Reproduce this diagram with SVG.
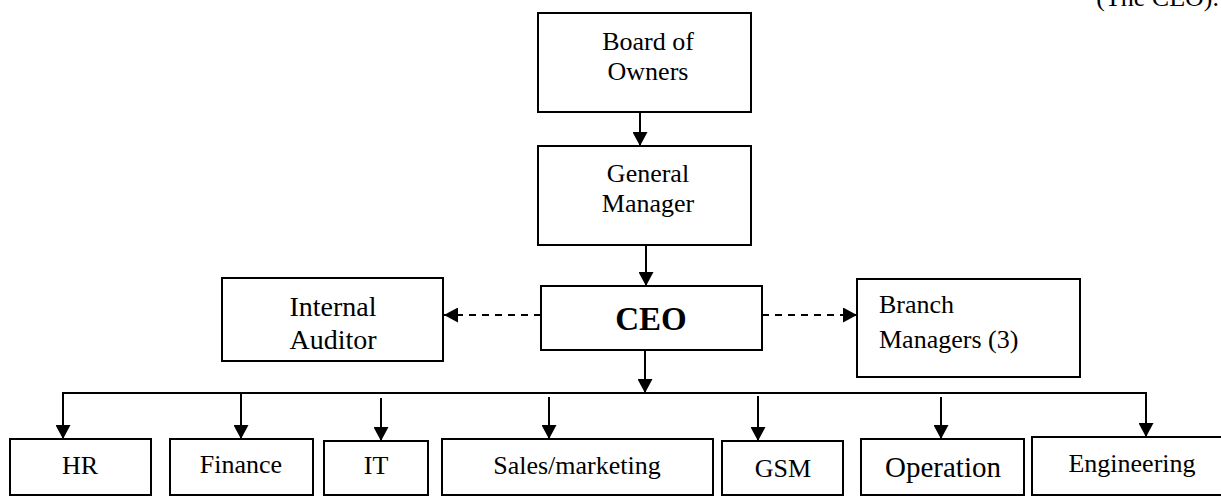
<svg xmlns="http://www.w3.org/2000/svg" width="1221" height="496" viewBox="0 0 1221 496" font-family="'Liberation Serif', Tinos, 'Times New Roman', 'DejaVu Serif', serif">
<style>
.box{fill:#fff;stroke:#000;stroke-width:2}
.t{font-size:26px;fill:#000;text-anchor:middle}
.c{stroke:#000;stroke-width:2;fill:none}
.d{stroke:#000;stroke-width:2;fill:none;stroke-dasharray:7 6}
</style>
<defs>
<marker id="ah" viewBox="0 0 14 15" refX="14" refY="7.5" markerWidth="14" markerHeight="15" markerUnits="userSpaceOnUse" orient="auto">
<path d="M0,0 L14,7.5 L0,15 Z" fill="#000"/>
</marker>
</defs>
<rect width="1221" height="496" fill="#fff"/>
<text class="t" x="1219" y="6" text-anchor="end" style="text-anchor:end">(The CEO).</text>
<g id="connectors">
<line class="c" x1="640" y1="112" x2="640" y2="146" marker-end="url(#ah)"/>
<line class="c" x1="646" y1="245" x2="646" y2="286" marker-end="url(#ah)"/>
<line class="c" x1="645" y1="350" x2="645" y2="393" marker-end="url(#ah)"/>
<line class="d" x1="541" y1="315" x2="444" y2="315" marker-end="url(#ah)"/>
<line class="d" x1="762" y1="315" x2="857" y2="315" marker-end="url(#ah)"/>
<polyline class="c" points="63,439 63,393 1146,393 1146,437"/>
<line class="c" x1="63" y1="420" x2="63" y2="439" marker-end="url(#ah)"/>
<line class="c" x1="1146" y1="420" x2="1146" y2="437" marker-end="url(#ah)"/>
<line class="c" x1="241" y1="393" x2="241" y2="439" marker-end="url(#ah)"/>
<line class="c" x1="381" y1="398" x2="381" y2="441" marker-end="url(#ah)"/>
<line class="c" x1="549" y1="397" x2="549" y2="439" marker-end="url(#ah)"/>
<line class="c" x1="758" y1="396" x2="758" y2="441" marker-end="url(#ah)"/>
<line class="c" x1="941" y1="397" x2="941" y2="439" marker-end="url(#ah)"/>
</g>
<g id="board"><rect class="box" x="538" y="13" width="213" height="99"/><text class="t" x="648" y="50">Board of</text><text class="t" x="648" y="80">Owners</text></g>
<g id="gm"><rect class="box" x="538" y="146" width="213" height="99"/><text class="t" x="648" y="182">General</text><text class="t" x="648" y="212">Manager</text></g>
<g id="ceo"><rect class="box" x="541" y="286" width="221" height="64"/><text class="t" x="651" y="330" style="font-size:33px;font-weight:bold">CEO</text></g>
<g id="auditor"><rect class="box" x="222" y="278" width="221" height="83"/><text class="t" x="333" y="316" style="font-size:28px">Internal</text><text class="t" x="333" y="349" style="font-size:28px">Auditor</text></g>
<g id="branch"><rect class="box" x="857" y="279" width="223" height="98"/><text class="t" x="879" y="313" text-anchor="start" style="text-anchor:start">Branch</text><text class="t" x="879" y="348" text-anchor="start" style="text-anchor:start">Managers (3)</text></g>
<g id="hr"><rect class="box" x="10" y="439" width="141" height="56"/><text class="t" x="80" y="474">HR</text></g>
<g id="finance"><rect class="box" x="170" y="439" width="143" height="56"/><text class="t" x="241" y="473">Finance</text></g>
<g id="it"><rect class="box" x="324" y="441" width="104" height="54"/><text class="t" x="376" y="474">IT</text></g>
<g id="sales"><rect class="box" x="442" y="439" width="271" height="56"/><text class="t" x="577" y="474">Sales/marketing</text></g>
<g id="gsm"><rect class="box" x="722" y="441" width="121" height="54"/><text class="t" x="783" y="477">GSM</text></g>
<g id="operation"><rect class="box" x="861" y="439" width="163" height="56"/><text class="t" x="943" y="477" style="font-size:29px">Operation</text></g>
<g id="engineering"><rect class="box" x="1032" y="437" width="200" height="58"/><text class="t" x="1132" y="472">Engineering</text></g>
</svg>
